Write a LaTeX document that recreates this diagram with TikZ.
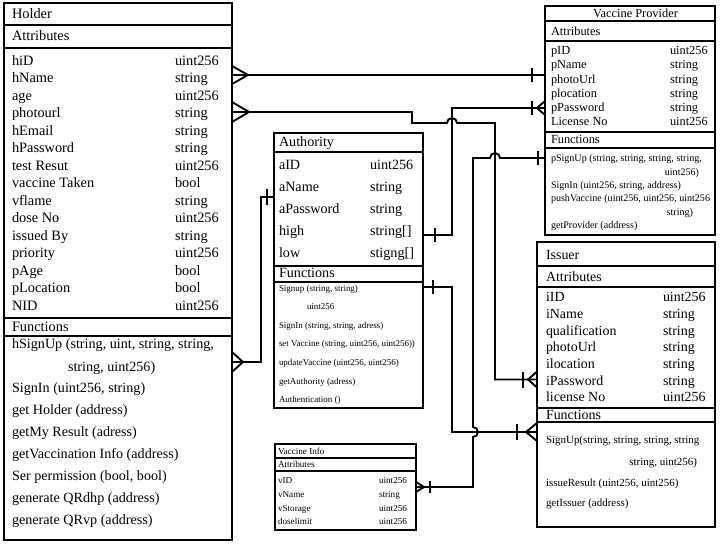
\documentclass[tikz,border=0pt]{standalone}
\usepackage{fontspec}
\setmainfont{Liberation Serif}
\begin{document}
\begin{tikzpicture}[x=1bp,y=-1bp,
  boxframe/.style={draw, line width=2bp, inner sep=0pt, outer sep=0pt, anchor=north west},
  sep/.style={line width=2bp},
  conn/.style={line width=1.9bp, line join=miter},
  txt/.style={anchor=base west, inner sep=0pt, outer sep=0pt},
  fH/.style={txt, font=\fontsize{14.4}{16}\selectfont, yshift=-4.3bp},
  fHf/.style={txt, font=\fontsize{14.2}{16}\selectfont, yshift=-4.3bp},
  fS/.style={txt, font=\fontsize{9}{10}\selectfont, yshift=-2.7bp},
  fV/.style={txt, font=\fontsize{12.4}{14}\selectfont, yshift=-3.7bp},
  fVf/.style={txt, font=\fontsize{10.1}{12}\selectfont, yshift=-3.1bp},
  fI/.style={txt, font=\fontsize{14}{16}\selectfont, yshift=-4.2bp},
  fIf/.style={txt, font=\fontsize{11}{13}\selectfont, yshift=-3.3bp},
  fVI/.style={txt, font=\fontsize{9.2}{11}\selectfont, yshift=-2.8bp},
]
\useasboundingbox (0,0) rectangle (720,544);

% ---------------- Holder ----------------
\node[boxframe, minimum width=228bp, minimum height=536.7bp] (holder) at (4,3.3) {};
\draw[sep] (4,25) -- (232,25);
\draw[sep] (4,48.3) -- (232,48.3);
\draw[sep] (4,317.7) -- (232,317.7);
\draw[sep] (4,335.5) -- (232,335.5);
\node[fH] (holderTitle) at (12,14) {Holder};
\node[fH] (holderAttr) at (12,36.7) {Attributes};
\foreach \n/\t [count=\i from 0] in {hiD/uint256, hName/string, age/uint256, photourl/string, hEmail/string, hPassword/string, test Resut/uint256, vaccine Taken/bool, vflame/string, dose No/uint256, issued By/string, priority/uint256, pAge/bool, pLocation/bool, NID/uint256}
{
  \node[fH] (hn\i) at (12,{61+17.5*\i}) {\n};
  \node[fH] (ht\i) at (175,{61+17.5*\i}) {\t};
}
\node[fH] (holderFun) at (12,327.3) {Functions};
\node[fHf] (hf1) at (12,344.3) {hSignUp (string, uint, string, string,};
\node[fHf] (hf2) at (68,366.7) {string, uint256)};
\node[fHf] (hf3) at (12,388.5) {SignIn (uint256, string)};
\node[fHf] (hf4) at (12,409.8) {get Holder (address)};
\node[fHf] (hf5) at (12,431.8) {getMy Result (adress)};
\node[fHf] (hf6) at (12,454) {getVaccination Info (address)};
\node[fHf] (hf7) at (12,475.8) {Ser permission (bool, bool)};
\node[fHf] (hf8) at (12,497.8) {generate QRdhp (address)};
\node[fHf] (hf9) at (12,520) {generate QRvp (address)};

% ---------------- Authority ----------------
\node[boxframe, minimum width=148.7bp, minimum height=275bp] (auth) at (274,133.3) {};
\draw[sep] (274,152.3) -- (422.7,152.3);
\draw[sep] (274,265.7) -- (422.7,265.7);
\draw[sep] (274,281.7) -- (422.7,281.7);
\node[fHf] (authTitle) at (279,142.7) {Authority};
\foreach \n/\t [count=\i from 0] in {aID/uint256, aName/string, aPassword/string, high/string[], low/stigng[]}
{
  \node[fHf] (an\i) at (279,{165+22.1*\i}) {\n};
  \node[fHf] (at\i) at (370,{165+22.1*\i}) {\t};
}
\node[fHf] (authFun) at (279,273.5) {Functions};
\node[fS] (af1) at (279,288.3) {Signup (string, string)};
\node[fS] (af2) at (307,306.9) {uint256};
\node[fS] (af3) at (279,325.5) {SignIn (string, string, adress)};
\node[fS] (af4) at (279,344.1) {set Vaccine (string, uint256, uint256))};
\node[fS] (af5) at (279,362.7) {updateVaccine (uint256, uint256)};
\node[fS] (af6) at (279,381.3) {getAuthority (adress)};
\node[fS] (af7) at (279,399.9) {Authentication ()};

% ---------------- Vaccine Provider ----------------
\node[boxframe, minimum width=170bp, minimum height=229bp] (vp) at (545,6) {};
\draw[sep] (545,20.7) -- (715,20.7);
\draw[sep] (545,40.7) -- (715,40.7);
\draw[sep] (545,132.3) -- (715,132.3);
\draw[sep] (545,148.3) -- (715,148.3);
\node[fV, anchor=base] (vpTitle) at (635.5,14.2) {Vaccine Provider};
\node[fV] (vpAttr) at (551,31.5) {Attributes};
\foreach \n/\t [count=\i from 0] in {pID/uint256, pName/string, photoUrl/string, plocation/string, pPassword/string, License No/uint256}
{
  \node[fV] (vn\i) at (551,{51+14.26*\i}) {\n};
  \node[fV] (vt\i) at (670,{51+14.26*\i}) {\t};
}
\node[fV] (vpFun) at (551,140.3) {Functions};
\node[fVf] (vf1) at (551,158.3) {pSignUp (string, string, string, string,};
\node[fVf, anchor=base east] (vf2) at (699,172.3) {uint256)};
\node[fVf] (vf3) at (551,185) {SignIn (uint256, string, address)};
\node[fVf] (vf4) at (551,198.3) {pushVaccine (uint256, uint256, uint256};
\node[fVf, anchor=base east] (vf5) at (693,212.3) {string)};
\node[fVf] (vf6) at (551,225.7) {getProvider (address)};

% ---------------- Issuer ----------------
\node[boxframe, minimum width=178bp, minimum height=284.4bp] (issuer) at (537,242.3) {};
\draw[sep] (537,265.7) -- (715,265.7);
\draw[sep] (537,286.7) -- (715,286.7);
\draw[sep] (537,407.7) -- (715,407.7);
\draw[sep] (537,422.3) -- (715,422.3);
\node[fI] (isTitle) at (546,255.2) {Issuer};
\node[fI] (isAttr) at (546,277.2) {Attributes};
\foreach \n/\t [count=\i from 0] in {iID/uint256, iName/string, qualification/string, photoUrl/string, ilocation/string, iPassword/string, license No/uint256}
{
  \node[fI] (in\i) at (546,{297.7+16.67*\i}) {\n};
  \node[fI] (it\i) at (663,{297.7+16.67*\i}) {\t};
}
\node[fI] (isFun) at (546,414.8) {Functions};
\node[fIf] (if1) at (546,440) {SignUp(string, string, string, string};
\node[fIf, anchor=base east] (if2) at (697,461.7) {string, uint256)};
\node[fIf] (if3) at (546,483.3) {issueResult (uint256, uint256)};
\node[fIf] (if4) at (546,503.3) {getIssuer (address)};

% ---------------- Vaccine Info ----------------
\node[boxframe, minimum width=141bp, minimum height=85.7bp] (vi) at (275,444.3) {};
\draw[sep] (275,457.7) -- (416,457.7);
\draw[sep] (275,470.7) -- (416,470.7);
\node[fVI] (viTitle) at (278,451.3) {Vaccine Info};
\node[fVI] (viAttr) at (278,464.3) {Attributes};
\foreach \n/\t [count=\i from 0] in {vID/uint256, vName/string, vStorage/uint256, doselimit/uint256}
{
  \node[fVI] (vin\i) at (278,{481+13.6*\i}) {\n};
  \node[fVI] (vit\i) at (379,{481+13.6*\i}) {\t};
}

% ---------------- Connectors ----------------
% Holder -> Vaccine Provider
\coordinate (c1a) at (232,75);
\coordinate (c1b) at (545,75);
\draw[conn] (c1a) -- (c1b);
\draw[conn] (c1a) ++(0,-9) -- ++(16,9) -- ++(-16,9);
\draw[conn] (c1b) ++(-13,-7) -- ++(0,14);

% Holder -> Issuer
\coordinate (c2a) at (232,112);
\coordinate (c2b) at (537,379.5);
\draw[conn] (c2a) -- (412,112) -- (412,123) -- (447,123)
  arc[start angle=180, end angle=0, radius=5bp] -- (495,123) -- (495,379.5) -- (c2b);
\draw[conn] (c2a) ++(0,-10) -- ++(17,10) -- ++(-17,10);
\draw[conn] (c2b) ++(0,-8) -- ++(-9,8) -- ++(9,8);
\draw[conn] (c2b) ++(-14,-8) -- ++(0,16);

% Vaccine Provider -> Authority
\coordinate (c3a) at (545,108);
\coordinate (c3b) at (422.7,235);
\draw[conn] (c3a) -- (452,108) -- (452,235) -- (c3b);
\draw[conn] (c3a) ++(0,-7) -- ++(-8,7) -- ++(8,7);
\draw[conn] (c3a) ++(-13,-7) -- ++(0,14);
\draw[conn] (c3b) ++(12,-7) -- ++(0,14);

% Vaccine Provider -> Vaccine Info
\coordinate (c4a) at (545,158);
\coordinate (c4b) at (416,487);
\draw[conn] (c4a) -- (500,158) arc[start angle=0, end angle=180, radius=5bp]
  -- (473,158) -- (473,427) arc[start angle=90, end angle=-90, radius=5bp]
  -- (473,487) -- (c4b);
\draw[conn] (c4a) ++(-7,-7) -- ++(0,14);
\draw[conn] (c4b) ++(0,-5) -- ++(8,5) -- ++(-8,5);
\draw[conn] (c4b) ++(14,-6) -- ++(0,12);

% Authority -> Issuer
\coordinate (c5a) at (422.7,287);
\coordinate (c5b) at (537,432);
\draw[conn] (c5a) -- (452,287) -- (452,432) -- (c5b);
\draw[conn] (c5a) ++(10,-7) -- ++(0,14);
\draw[conn] (c5b) ++(0,-9) -- ++(-11,9) -- ++(11,9);
\draw[conn] (c5b) ++(-20,-8) -- ++(0,16);

% Holder -> Authority
\coordinate (c6a) at (232,362);
\coordinate (c6b) at (274,197);
\draw[conn] (c6a) -- (261,362) -- (261,197) -- (c6b);
\draw[conn] (c6a) ++(0,-10) -- ++(11,10) -- ++(-11,10);
\draw[conn] (c6b) ++(-7,-8) -- ++(0,16);
\end{tikzpicture}
\end{document}
